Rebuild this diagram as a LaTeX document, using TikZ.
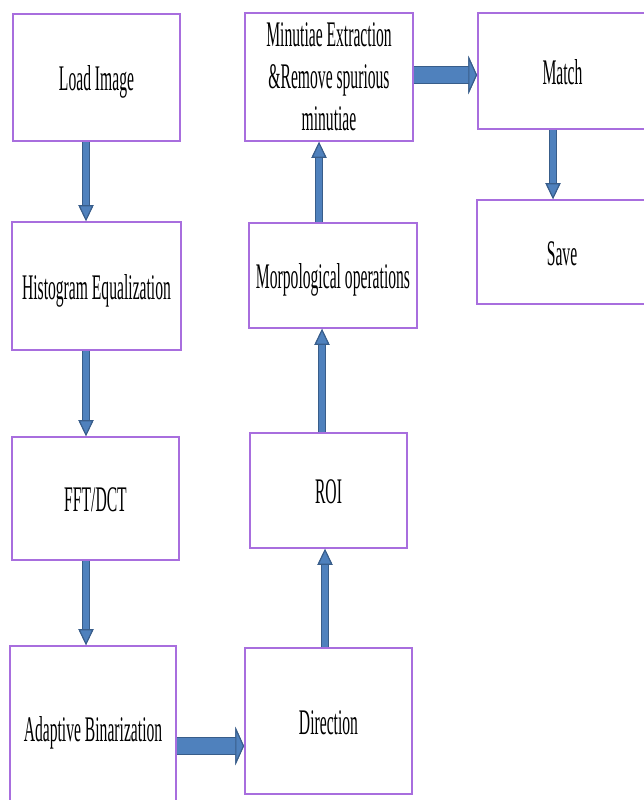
\documentclass[tikz,border=0pt]{standalone}
\usepackage{fontspec}
\setmainfont{Liberation Serif}[FakeStretch=0.434]
\usetikzlibrary{arrows.meta}

\definecolor{boxline}{RGB}{168,110,222}
\definecolor{flowblue}{RGB}{79,129,189}
\definecolor{flowedge}{RGB}{56,93,138}

\tikzset{
  stage/.style={draw=boxline, line width=1.1pt, fill=white, inner sep=0pt, align=center,
    font=\fontsize{20.5}{23.9}\selectfont},
  oneline/.style={stage, text height=19.5pt, text depth=4.5pt},
  vflow/.style={line width=3.2pt, draw=flowblue,
    -{Triangle[width=8.5pt,length=9pt,line width=0.6pt,color=flowedge,fill=flowblue]},
    preaction={draw=flowedge, line width=4.2pt,
      -{Triangle[width=8.5pt,length=9pt,line width=0.6pt,color=flowedge,fill=flowblue]}}},
  hflow/.style={line width=9.4pt, draw=flowblue,
    -{Triangle[width=22pt,length=5pt,line width=0.6pt,color=flowedge,fill=flowblue]},
    preaction={draw=flowedge, line width=10.6pt,
      -{Triangle[width=22pt,length=5pt,line width=0.6pt,color=flowedge,fill=flowblue]}}}
}

\begin{document}
\begin{tikzpicture}[x=0.02cm,y=-0.02cm]
    \clip (0,0) rectangle (644,800);
    \fill[white] (0,0) rectangle (644,800);
    % left column
    \node[oneline, minimum width=3.34cm, minimum height=2.54cm] (load) at (96.5,77.5) {Load Image};
    \node[oneline, minimum width=3.38cm, minimum height=2.56cm] (histo) at (96.5,286) {Histogram Equalization};
    \node[oneline, minimum width=3.34cm, minimum height=2.46cm] (fft) at (95.5,498.5) {FFT/DCT};
    \node[oneline, minimum width=3.32cm, minimum height=3.28cm] (adapt) at (93,728) {Adaptive Binarization};
    % middle column
    \node[oneline, minimum width=3.34cm, minimum height=2.92cm] (dir) at (328.5,721) {Direction};
    \node[oneline, minimum width=3.14cm, minimum height=2.30cm] (roi) at (328.5,490.5) {ROI};
    \node[oneline, minimum width=3.36cm, minimum height=2.10cm] (morph) at (333,275.5) {Morpological operations};
    \node[stage, minimum width=3.36cm, minimum height=2.56cm] (minu) at (329,77)
      {Minutiae Extraction\\ \&Remove spurious\\ minutiae};
    % right column
    \node[oneline, minimum width=3.38cm, minimum height=2.32cm] (match) at (562.5,71) {Match};
    \node[oneline, minimum width=3.40cm, minimum height=2.08cm] (save) at (562,252) {Save};

    \draw[vflow] ([xshift=-0.21cm]load.south) -- ([xshift=-0.21cm]histo.north);
    \draw[vflow] ([xshift=-0.21cm]histo.south) -- ([xshift=-0.21cm]histo.south |- fft.north);
    \draw[vflow] ([xshift=-0.19cm]fft.south) -- ([xshift=-0.19cm]fft.south |- adapt.north);
    \draw[hflow] ([yshift=-0.36cm]adapt.east) -- ([yshift=-0.36cm]adapt.east -| dir.west);
    \draw[vflow] ([xshift=-0.07cm]dir.north) -- ([xshift=-0.07cm]roi.south);
    \draw[vflow] ([xshift=-0.13cm]roi.north) -- ([xshift=-0.13cm]roi.north |- morph.south);
    \draw[vflow] ([xshift=-0.28cm]morph.north) -- ([xshift=-0.28cm]morph.north |- minu.south);
    \draw[hflow] ([yshift=0.04cm]minu.east) -- ([yshift=0.04cm]minu.east -| match.west);
    \draw[vflow] ([xshift=-0.19cm]match.south) -- ([xshift=-0.19cm]match.south |- save.north);
\end{tikzpicture}
\end{document}
